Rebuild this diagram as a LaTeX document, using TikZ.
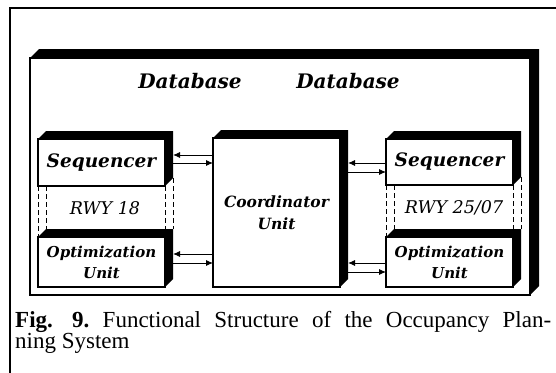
\documentclass[tikz,border=0pt]{standalone}
\usepackage{fontspec}
\setmainfont{Liberation Serif}
\newfontfamily\bkfont{DejaVu Serif}
\usetikzlibrary{calc,arrows.meta}
\tikzset{
  x=1pt, y=-1pt,
  front/.style={draw, line width=1.2pt, fill=white, inner sep=0pt, outer sep=0pt,
    anchor=north west, minimum width=127pt, align=center,
    font=\bkfont\bfseries\itshape\fontsize{18.5}{22}\selectfont},
  twoline/.style={font=\bkfont\bfseries\itshape\fontsize{15}{21}\selectfont},
  conn/.style={line width=0.9pt, -{Latex[length=7pt,width=6pt]}},
  dashline/.style={line width=0.8pt, dash pattern=on 5pt off 3pt},
  dblabel/.style={font=\bkfont\bfseries\itshape\fontsize{20}{24}\selectfont},
  rwylabel/.style={font=\bkfont\itshape\fontsize{17.5}{21}\selectfont},
  caption/.style={anchor=base west, inner sep=0pt, font=\fontsize{23}{26}\selectfont\frenchspacing},
}
\newcommand\boxfaces[2]{%
  \fill (#1.north west) -- ++(#2,-#2) -- ($(#1.north east)+(#2,-#2)$)
    -- ($(#1.south east)+(#2,-#2)$) -- (#1.south east) -- (#1.north east) -- cycle;
}
\begin{document}
\begin{tikzpicture}
\useasboundingbox (0,0) rectangle (556,372);
\clip (0,0) rectangle (556,372);
% outer frame
\draw[line width=1.4pt] (10,390) -- (10,8) -- (570,8);
% big database box
\node[front, minimum width=500pt, minimum height=237pt] (db) at (30,58) {};
\boxfaces{db}{9}
\node[dblabel] (db1) at (190,81) {Database};
\node[dblabel] (db2) at (348,81) {Database};
% dashed runway regions (drawn under the boxes)
\coordinate (lsw) at (38,186);
\coordinate (lnw) at (38,237);
\coordinate (lse) at (165,186);
\coordinate (lne) at (165,237);
\coordinate (rsw) at (386,185);
\coordinate (rnw) at (386,237);
\coordinate (rse) at (513,185);
\coordinate (rne) at (513,237);
\draw[dashline] (lsw) -- (lnw);
\draw[dashline] (lse) -- (lne);
\draw[dashline] ($(lsw)+(8,-8)$) -- ($(lnw)+(8,-8)$);
\draw[dashline] ($(lse)+(8,-8)$) -- ($(lne)+(8,-8)$);
\draw[dashline] (rsw) -- (rnw);
\draw[dashline] (rse) -- (rne);
\draw[dashline] ($(rsw)+(8,-8)$) -- ($(rnw)+(8,-8)$);
\draw[dashline] ($(rse)+(8,-8)$) -- ($(rne)+(8,-8)$);
\node[rwylabel] (rwyL) at (105,208) {RWY 18};
\node[rwylabel] (rwyR) at (454,208) {RWY 25/07};
% boxes
\node[front, minimum height=47pt] (seqL) at (38,139) {Sequencer};
\node[front, twoline, minimum height=50pt] (optL) at (38,237) {Optimization\\Unit};
\node[front, twoline, minimum height=149pt, font=\bkfont\bfseries\itshape\fontsize{15.5}{22}\selectfont] (coord) at (213,138) {Coordinator\\Unit};
\node[front, minimum height=46pt] (seqR) at (386,139) {Sequencer};
\node[front, twoline, minimum height=50pt] (optR) at (386,237) {Optimization\\Unit};
\boxfaces{seqL}{8}
\boxfaces{optL}{8}
\boxfaces{coord}{8}
\boxfaces{seqR}{8}
\boxfaces{optR}{8}
% arrows
\coordinate (a1) at ([xshift=8pt,yshift=-16pt]seqL.north east);
\coordinate (a2) at ([xshift=8pt,yshift=-24pt]seqL.north east);
\draw[conn] (coord.west |- a1) -- (a1);
\draw[conn] (a2) -- (coord.west |- a2);
\coordinate (a3) at ([xshift=8pt,yshift=-17pt]optL.north east);
\coordinate (a4) at ([xshift=8pt,yshift=-26pt]optL.north east);
\draw[conn] (coord.west |- a3) -- (a3);
\draw[conn] (a4) -- (coord.west |- a4);
\coordinate (b1) at ([yshift=-24pt]seqR.north west);
\coordinate (b2) at ([yshift=-33pt]seqR.north west);
\draw[conn] (b1) -- ([xshift=8pt]coord.east |- b1);
\draw[conn] ([xshift=8pt]coord.east |- b2) -- (b2);
\coordinate (b3) at ([yshift=-26pt]optR.north west);
\coordinate (b4) at ([yshift=-35pt]optR.north west);
\draw[conn] (b3) -- ([xshift=8pt]coord.east |- b3);
\draw[conn] ([xshift=8pt]coord.east |- b4) -- (b4);
% caption
\node[caption] (cap1) at (15,327) {\makebox[536pt][s]{\textbf{Fig.}\hspace{6pt} \textbf{9.} Functional Structure of the Occupancy Plan-}};
\node[caption] (cap2) at (15,348) {ning System};
\end{tikzpicture}
\end{document}
